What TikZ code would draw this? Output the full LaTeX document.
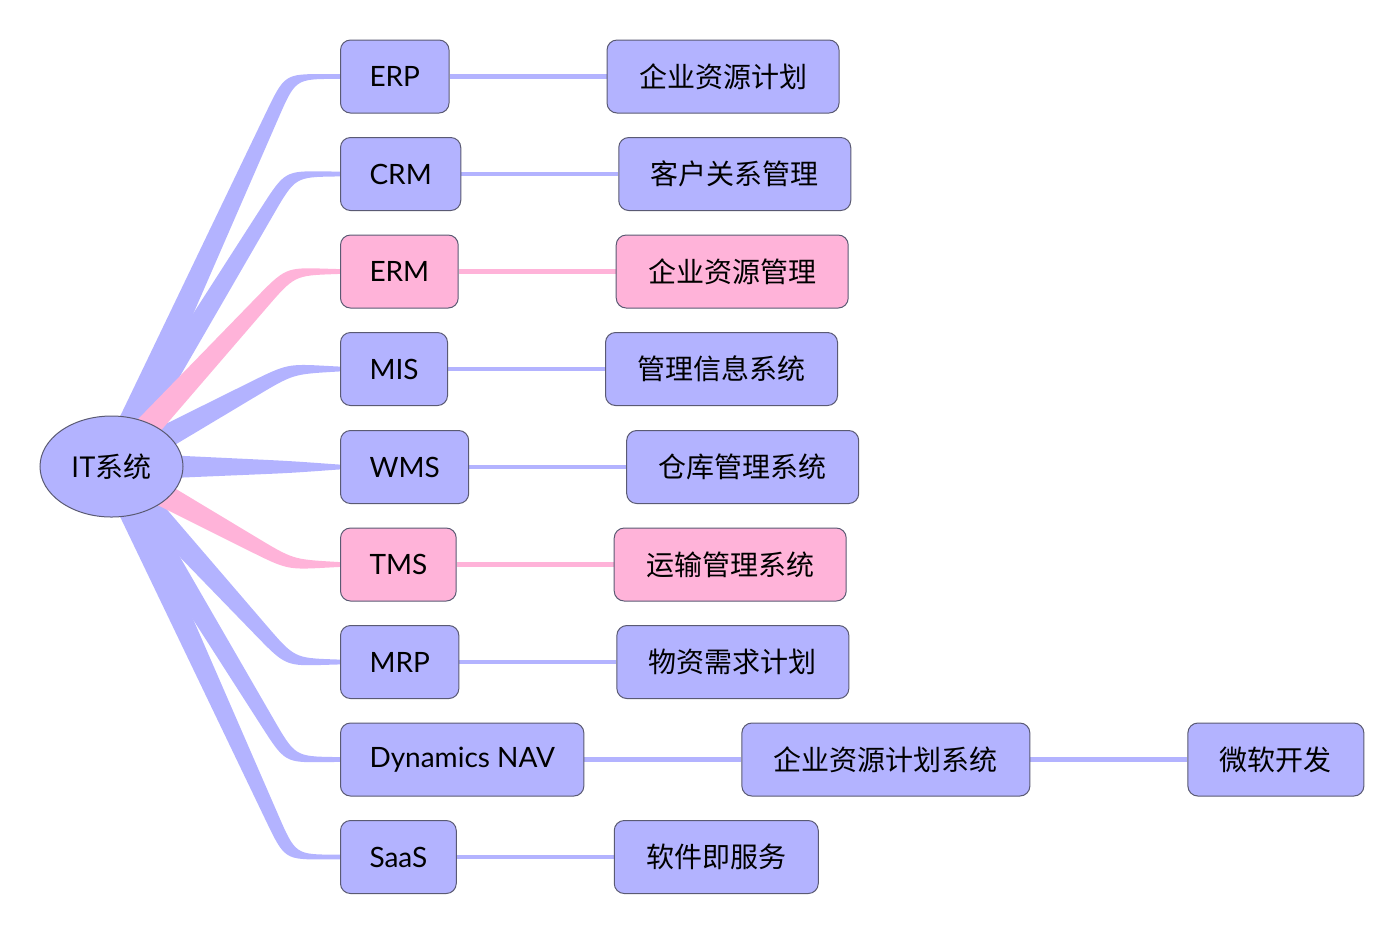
\documentclass[tikz,border=0pt]{standalone}
\usepackage{fontspec}
\setmainfont{Noto Sans CJK SC}
\newfontfamily\latinfont{Lato}
\usepackage{xcolor}
\usetikzlibrary{positioning,calc,shapes.geometric}

\definecolor{lav}{RGB}{179,179,255}
\definecolor{pnk}{RGB}{255,179,217}
\definecolor{edge}{RGB}{90,90,115}

\pgfdeclarelayer{bg}
\pgfsetlayers{bg,main}

% tapered branch from the root to a first-level node
\newcommand\taper[2]{%
  \path (#1.west) ++(-50,0) coordinate (k);
  \path ($(root)!7pt!90:(k)$) coordinate (a1)
        ($(root)!7pt!-90:(k)$) coordinate (b1)
        ($(k)!3pt!-90:(root)$) coordinate (a2)
        ($(k)!3pt!90:(root)$) coordinate (b2)
        ($(#1.west)+(0,1.2pt)$) coordinate (a3)
        ($(#1.west)+(0,-1.2pt)$) coordinate (b3);
  \fill[#2] (a1) -- ($(a2)!22pt!(a1)$) .. controls (a2) .. ($(a2)!20pt!(a3)$) -- (a3)
    -- (b3) -- ($(b2)!20pt!(b3)$) .. controls (b2) .. ($(b2)!22pt!(b1)$) -- (b1) -- cycle;
}

\begin{document}
\begin{tikzpicture}[x=0.5pt, y=-0.5pt,
    box/.style={draw=edge, line width=0.5pt, fill=lav, rounded corners=5pt,
      minimum height=36.5pt, inner xsep=16pt, font=\fontsize{14pt}{17pt}\selectfont},
    pbox/.style={box, fill=pnk},
    abbr/.style={inner xsep=14.5pt, font=\latinfont\fontsize{14pt}{17pt}\selectfont},
    link/.style={lav, line width=2.2pt},
    plink/.style={pnk, line width=2.2pt}]
\useasboundingbox (0,0) rectangle (1400,934);

\node[draw=edge, line width=0.5pt, fill=lav, ellipse, minimum width=71.5pt,
  minimum height=50.5pt, inner sep=0pt, font=\fontsize{14pt}{17pt}\selectfont]
  (root) at (111.5,466.5) {IT系统};

% first level
\node[box, abbr, anchor=west] (erp) at (340,76.5) {ERP};
\node[box, abbr, anchor=west] (crm) at (340,174) {CRM};
\node[pbox, abbr, anchor=west] (erm) at (340,271.5) {ERM};
\node[box, abbr, anchor=west] (mis) at (340,369) {MIS};
\node[box, abbr, anchor=west] (wms) at (340,467) {WMS};
\node[pbox, abbr, anchor=west] (tms) at (340,564.5) {TMS};
\node[box, abbr, anchor=west] (mrp) at (340,662) {MRP};
\node[box, abbr, anchor=west] (nav) at (340,759.5) {Dynamics NAV};
\node[box, abbr, anchor=west] (saas) at (340,857) {SaaS};

% second level
\node[box, right=78.5pt of erp] (erpx) {企业资源计划};
\node[box, right=78.5pt of crm] (crmx) {客户关系管理};
\node[pbox, right=78.5pt of erm] (ermx) {企业资源管理};
\node[box, right=78.5pt of mis] (misx) {管理信息系统};
\node[box, right=78.5pt of wms] (wmsx) {仓库管理系统};
\node[pbox, right=78.5pt of tms] (tmsx) {运输管理系统};
\node[box, right=78.5pt of mrp] (mrpx) {物资需求计划};
\node[box, right=78.5pt of nav] (navx) {企业资源计划系统};
\node[box, right=78.5pt of saas] (saasx) {软件即服务};
\node[box, right=78.5pt of navx] (ms) {微软开发};

\begin{pgfonlayer}{bg}
  \taper{erp}{lav}
  \taper{crm}{lav}
  \taper{mis}{lav}
  \taper{wms}{lav}
  \taper{mrp}{lav}
  \taper{nav}{lav}
  \taper{saas}{lav}
  \taper{erm}{pnk}
  \taper{tms}{pnk}
  \draw[link] (erp) -- (erpx);
  \draw[link] (crm) -- (crmx);
  \draw[plink] (erm) -- (ermx);
  \draw[link] (mis) -- (misx);
  \draw[link] (wms) -- (wmsx);
  \draw[plink] (tms) -- (tmsx);
  \draw[link] (mrp) -- (mrpx);
  \draw[link] (nav) -- (navx);
  \draw[link] (navx) -- (ms);
  \draw[link] (saas) -- (saasx);
\end{pgfonlayer}
\end{tikzpicture}
\end{document}
